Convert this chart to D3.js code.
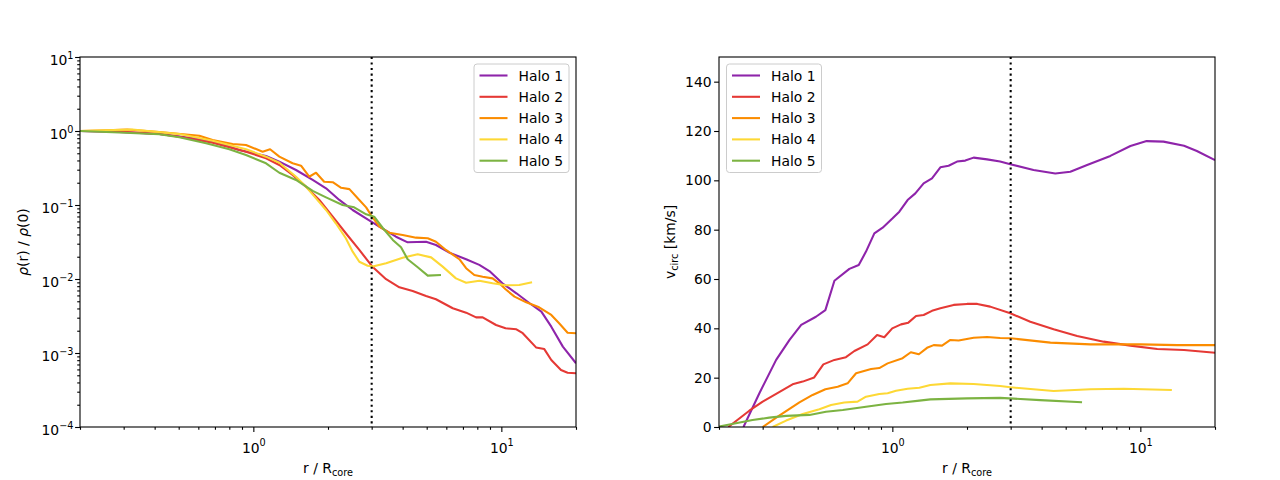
<!DOCTYPE html>
<html>
<head>
<meta charset="utf-8">
<script src="https://cdn.jsdelivr.net/npm/d3@7"></script>
<style>
  body { margin: 0; background: #fff; }
  svg { font-family: "DejaVu Sans", sans-serif; }
  .tick text { font-size: 13.9px; fill: #000; }
  .tick line, .tick { stroke-width: 1.1px; }
</style>
</head>
<body>
<div id="vis"></div>
<script>
// names, colours and the core-radius marker
const haloNames = ["Halo 1", "Halo 2", "Halo 3", "Halo 4", "Halo 5"];
const haloColors = ["#8e24aa", "#e53935", "#fb8c00", "#fdd835", "#7cb342"];
const rMark = 3;

// density profiles, [r / R_core, rho(r) / rho(0)]
const dens1 = [[0.2,1.0],[0.288,0.97],[0.418,0.911],[0.606,0.78],[0.729,0.689],[0.878,0.554],[1.125,0.459],[1.273,0.385],[1.486,0.297],[1.735,0.218],[1.964,0.168],[2.222,0.117],[2.515,0.0856],[2.846,0.066],[3.22,0.0509],[3.76,0.0373],[4.19,0.0313],[4.97,0.0319],[5.45,0.0288],[6.17,0.0227],[7.21,0.0185],[8.15,0.0155],[8.95,0.0128],[10.1,0.00875],[11.5,0.00641],[13.0,0.0047],[14.5,0.00362],[15.9,0.00227],[17.7,0.00122],[20,0.000726]];
const dens2 = [[0.2,1.0],[0.288,0.985],[0.418,0.911],[0.503,0.838],[0.685,0.695],[0.934,0.525],[1.125,0.428],[1.273,0.347],[1.44,0.254],[1.63,0.177],[1.845,0.117],[2.09,0.0695],[2.36,0.0415],[2.675,0.0247],[3.03,0.0145],[3.43,0.00993],[3.88,0.00773],[4.39,0.00689],[4.97,0.00589],[5.45,0.00532],[6.37,0.00402],[7.21,0.00351],[7.91,0.00303],[8.41,0.00303],[9.52,0.00239],[10.4,0.00216],[11.5,0.00209],[12.2,0.00185],[13.8,0.00119],[14.9,0.00113],[15.9,0.000803],[17.4,0.000589],[18.5,0.000542],[20,0.000532]];
const dens3 = [[0.2,1.0],[0.239,1.016],[0.31,1.048],[0.418,0.969],[0.606,0.864],[0.685,0.756],[0.825,0.667],[0.934,0.647],[1.09,0.525],[1.168,0.566],[1.273,0.45],[1.44,0.366],[1.557,0.34],[1.68,0.241],[1.79,0.273],[1.93,0.206],[2.09,0.203],[2.26,0.171],[2.44,0.164],[2.675,0.117],[2.85,0.093],[2.98,0.0733],[3.22,0.0509],[3.53,0.0422],[4.0,0.0393],[4.53,0.0362],[5.05,0.0355],[5.45,0.0319],[5.98,0.0247],[6.77,0.0185],[7.21,0.014],[7.78,0.0113],[8.41,0.0107],[9.22,0.0102],[9.82,0.00875],[10.4,0.00726],[11.3,0.00577],[12.6,0.00484],[14.2,0.00415],[15.9,0.00327],[17.1,0.00252],[18.5,0.00188],[20,0.00185]];
const dens4 = [[0.2,1.0],[0.325,1.048],[0.503,0.911],[0.685,0.74],[0.934,0.566],[1.125,0.45],[1.273,0.373],[1.486,0.241],[1.63,0.177],[1.79,0.123],[1.964,0.0856],[2.15,0.0566],[2.36,0.0355],[2.515,0.0234],[2.675,0.0171],[2.89,0.0151],[3.03,0.0148],[3.43,0.0163],[4.0,0.0194],[4.6,0.0216],[5.21,0.0196],[5.8,0.0147],[6.56,0.0102],[7.21,0.00891],[8.15,0.00948],[9.22,0.00875],[10.4,0.00822],[11.8,0.0083],[13.3,0.00902]];
const dens5 = [[0.2,1.0],[0.288,0.954],[0.418,0.902],[0.503,0.822],[0.645,0.682],[0.8,0.566],[0.934,0.474],[1.125,0.366],[1.273,0.273],[1.486,0.218],[1.735,0.155],[1.964,0.127],[2.29,0.1],[2.55,0.093],[2.85,0.0749],[3.07,0.0695],[3.32,0.0493],[3.65,0.0337],[3.94,0.0268],[4.19,0.0185],[4.6,0.0144],[5.05,0.0111],[5.71,0.0113]];

// circular velocity profiles, [r / R_core, v_circ in km/s]
const vel1 = [[0.251,0],[0.291,13.7],[0.34,27.2],[0.385,35.3],[0.429,41.4],[0.492,44.7],[0.537,47.4],[0.584,59.3],[0.671,64.1],[0.732,65.7],[0.783,71.1],[0.846,78.5],[0.914,80.8],[1.0,84.5],[1.067,87.3],[1.152,92.0],[1.238,94.7],[1.337,98.8],[1.445,100.8],[1.562,105.3],[1.686,105.9],[1.823,107.6],[1.968,108.0],[2.127,109.2],[2.41,108.5],[2.72,107.6],[2.99,106.5],[3.71,104.2],[4.54,102.8],[5.22,103.5],[6.1,106.2],[7.57,109.9],[9.12,113.9],[10.6,115.9],[12.4,115.7],[15.0,114.0],[16.9,111.9],[20,108.2]];
const vel2 = [[0.218,0],[0.265,6.6],[0.3,10.3],[0.34,13.4],[0.396,17.3],[0.435,18.4],[0.484,20.1],[0.527,25.4],[0.584,27.2],[0.65,28.3],[0.703,30.8],[0.795,33.5],[0.868,37.3],[0.928,36.4],[0.999,40.0],[1.084,41.6],[1.16,42.3],[1.246,45.0],[1.337,45.4],[1.445,47.1],[1.562,48.1],[1.767,49.5],[2.0,49.9],[2.2,49.9],[2.48,48.8],[2.99,46.1],[3.6,42.7],[4.47,39.6],[5.56,36.9],[7.11,34.6],[9.12,33.0],[11.7,31.6],[15.0,31.2],[20,30.1]];
const vel3 = [[0.3,0],[0.345,4.2],[0.422,10.0],[0.477,13.0],[0.537,15.3],[0.602,16.3],[0.66,17.7],[0.714,21.8],[0.821,23.5],[0.886,23.9],[0.957,25.8],[1.1,27.9],[1.187,30.3],[1.279,29.5],[1.38,32.1],[1.468,33.2],[1.586,33.0],[1.714,35.3],[1.851,35.1],[2.127,36.2],[2.41,36.5],[2.72,36.1],[2.99,36.0],[4.34,34.2],[6.29,33.5],[10.0,33.5],[14.1,33.2],[20,33.2]];
const vel4 = [[0.329,0],[0.373,2.6],[0.435,5.3],[0.508,7.2],[0.566,8.9],[0.64,9.9],[0.724,10.3],[0.783,12.3],[0.886,13.4],[0.957,13.7],[1.035,14.7],[1.152,15.5],[1.285,15.9],[1.423,17.0],[1.714,17.7],[2.127,17.4],[2.72,16.6],[2.99,16.1],[4.47,14.6],[6.29,15.3],[8.57,15.5],[13.4,15.0]];
const vel5 = [[0.2,0.2],[0.234,1.5],[0.273,2.8],[0.319,3.8],[0.373,4.5],[0.463,4.9],[0.54,6.2],[0.631,6.9],[0.783,8.2],[0.943,9.3],[1.1,9.9],[1.285,10.7],[1.423,11.2],[2.0,11.6],[2.72,11.8],[3.95,10.9],[5.82,10.0]];

const densData = [dens1, dens2, dens3, dens4, dens5];
const velData = [vel1, vel2, vel3, vel4, vel5];

// axis ticks
const xMajor = [1, 10];
const xMinor = [0.2,0.3,0.4,0.5,0.6,0.7,0.8,0.9,2,3,4,5,6,7,8,9,20];
const yDensMajor = [1e-4, 1e-3, 1e-2, 1e-1, 1, 10];
const yDensMinor = [];
for (let k = -4; k <= 0; k++) {
  for (let m = 2; m <= 9; m++) yDensMinor.push(m * Math.pow(10, k));
}
const yVelTicks = [0, 20, 40, 60, 80, 100, 120, 140];

// layout
const W = 1280, H = 480;
const plotTop = 57, plotW = 496, plotH = 370;
const majorLen = 4.9, minorLen = 2.8;

const svg = d3.select("#vis")
  .append("svg")
    .attr("width", W)
    .attr("height", H);

// 10^n labels like matplotlib's mathtext
function powerLabels(axisG, side) {
  axisG.selectAll(".tick").each(function(d) {
    const e = Math.round(Math.log10(d));
    const t = d3.select(this).append("text")
      .attr("fill", "#000")
      .style("font-size", "13.9px");
    if (side === "left") {
      t.attr("x", -6.5).attr("y", 7.7).attr("text-anchor", "end");
    } else {
      t.attr("x", 0).attr("y", 25.5).attr("text-anchor", "middle");
    }
    t.append("tspan").text("10");
    t.append("tspan")
      .attr("dy", -6.5)
      .style("font-size", "9.7px")
      .text(e < 0 ? "\u2212" + (-e) : String(e));
  });
}

function cleanAxis(g) {
  g.attr("font-size", null).attr("font-family", null);
  g.select(".domain").remove();
}

function drawPanel(x0, yScale, data, opts) {
  const g = svg.append("g").attr("transform", `translate(${x0}, ${plotTop})`);

  const xScale = d3.scaleLog().domain([0.2, 20]).range([0, plotW]);

  const clipId = "clip" + x0;
  g.append("clipPath").attr("id", clipId)
    .append("rect").attr("width", plotW).attr("height", plotH);

  // x axis
  const xAx = g.append("g")
    .attr("transform", `translate(0, ${plotH})`)
    .call(d3.axisBottom(xScale).tickValues(xMajor).tickSize(majorLen).tickFormat(""))
    .call(cleanAxis);
  powerLabels(xAx, "bottom");
  g.append("g")
    .attr("transform", `translate(0, ${plotH})`)
    .call(d3.axisBottom(xScale).tickValues(xMinor).tickSize(minorLen).tickFormat(""))
    .call(cleanAxis);

  // y axis
  if (opts.logY) {
    const yAx = g.append("g")
      .call(d3.axisLeft(yScale).tickValues(yDensMajor).tickSize(majorLen).tickFormat(""))
      .call(cleanAxis);
    powerLabels(yAx, "left");
    g.append("g")
      .call(d3.axisLeft(yScale).tickValues(yDensMinor).tickSize(minorLen).tickFormat(""))
      .call(cleanAxis);
  } else {
    g.append("g")
      .call(d3.axisLeft(yScale).tickValues(yVelTicks).tickSize(majorLen).tickPadding(2.5))
      .call(cleanAxis);
  }

  // curves
  const line = d3.line()
    .x(d => xScale(d[0]))
    .y(d => yScale(d[1]));

  g.append("g")
    .attr("clip-path", `url(#${clipId})`)
    .selectAll("path")
    .data(data)
    .join("path")
      .attr("d", line)
      .attr("fill", "none")
      .attr("stroke", (d, i) => haloColors[i])
      .attr("stroke-width", 2.08)
      .attr("stroke-linejoin", "round");

  // core radius marker
  g.append("line")
    .attr("x1", xScale(rMark)).attr("x2", xScale(rMark))
    .attr("y1", 0).attr("y2", plotH)
    .attr("stroke", "#000")
    .attr("stroke-width", 2.08)
    .attr("stroke-dasharray", "2.08 3.44");

  // frame
  g.append("rect")
    .attr("width", plotW).attr("height", plotH)
    .attr("fill", "none")
    .attr("stroke", "#000")
    .attr("stroke-width", 1.1);

  // x label
  const xl = g.append("text")
    .attr("x", plotW / 2).attr("y", plotH + 45.5)
    .attr("text-anchor", "middle")
    .style("font-size", "13.9px");
  xl.append("tspan").text("r / R");
  xl.append("tspan").attr("dy", 3).style("font-size", "9.7px").text("core");

  // y label
  const yl = g.append("text")
    .attr("transform", `translate(${opts.yLabelX}, ${plotH / 2}) rotate(-90)`)
    .attr("text-anchor", "middle")
    .attr("dy", "0.35em")
    .style("font-size", "13.9px");
  opts.yLabel(yl);

  // legend
  const lx = opts.legendLeft ? 7.5 : plotW - 7 - 95;
  const lg = g.append("g").attr("transform", `translate(${lx}, 7)`);
  lg.append("rect")
    .attr("width", 95).attr("height", 108.5)
    .attr("rx", 3)
    .attr("fill", "#fff").attr("fill-opacity", 0.8)
    .attr("stroke", "#cccccc").attr("stroke-width", 1);
  haloNames.forEach((name, i) => {
    const cy = 11.5 + i * 21.3;
    lg.append("line")
      .attr("x1", 5.5).attr("x2", 33.5)
      .attr("y1", cy).attr("y2", cy)
      .attr("stroke", haloColors[i])
      .attr("stroke-width", 2.08);
    lg.append("text")
      .attr("x", 44.5).attr("y", cy)
      .attr("dy", "0.36em")
      .style("font-size", "13.9px")
      .text(name);
  });
}

// left panel: density
const yDens = d3.scaleLog().domain([1e-4, 10]).range([plotH, 0]);
drawPanel(80, yDens, densData, {
  logY: true,
  legendLeft: false,
  yLabelX: -57,
  yLabel: t => {
    t.append("tspan").style("font-style", "italic").text("\u03c1");
    t.append("tspan").text("(r) / ");
    t.append("tspan").style("font-style", "italic").text("\u03c1");
    t.append("tspan").text("(0)");
  }
});

// right panel: circular velocity
const yVel = d3.scaleLinear().domain([0, 150]).range([plotH, 0]);
drawPanel(719, yVel, velData, {
  logY: false,
  legendLeft: true,
  yLabelX: -49,
  yLabel: t => {
    t.append("tspan").text("v");
    t.append("tspan").attr("dy", 3).style("font-size", "9.7px").text("circ");
    t.append("tspan").attr("dy", -3).text(" [km/s]");
  }
});
</script>
</body>
</html>
